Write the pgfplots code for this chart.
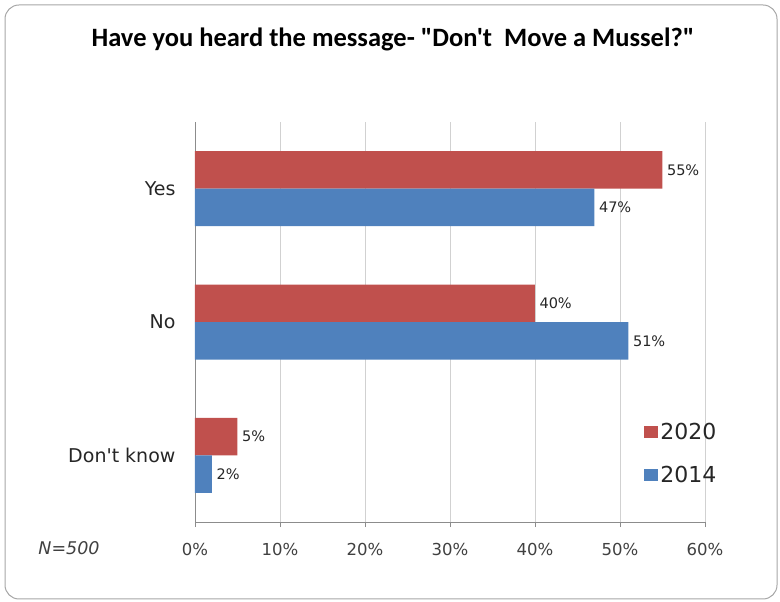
\documentclass[border=0pt]{standalone}
\usepackage{pgfplots}
\pgfplotsset{compat=1.18}
\usepackage{fontspec}
\setmainfont{DejaVu Sans}[Ligatures=TeXOff]
\newfontfamily\titlefont{Carlito}[Ligatures=TeXOff]
\definecolor{cred}{HTML}{C0504D}
\definecolor{cblue}{HTML}{4F81BD}
\begin{document}
\begin{tikzpicture}[x=1pt,y=1pt]
\useasboundingbox (0,0) rectangle (780,602);
\draw[black!35, rounded corners=14pt, line width=1pt] (5,3) rectangle (777,597);
\node[font=\titlefont\bfseries\fontsize{26.5}{30}\selectfont] at (393,563) {Have you heard the message- "Don't\ \ Move a Mussel?"};
\node[font=\itshape\fontsize{17.5}{20}\selectfont, text=black!75] at (69,54) {N=500};
\begin{axis}[
  at={(195pt,80pt)}, anchor=south west,
  scale only axis, width=510pt, height=400pt,
  xbar, bar width=37.5pt,
  xmin=0, xmax=60,
  ymin=-0.5, ymax=2.5, y dir=reverse,
  xtick={0,10,...,60},
  xticklabel={\pgfmathprintnumber{\tick}\%},
  /pgf/number format/assume math mode=true,
  ytick={0,1,2},
  yticklabels={Yes,No,Don't know},
  minor ytick={-0.5,0.5,1.5,2.5},
  ytick style={draw=none},
  minor tick length=5pt,
  minor y tick style={black!45},
  xtick style={black!45},
  xmajorgrids, grid style={black!18, line width=0.8pt},
  axis x line*=bottom, axis y line*=left,
  axis line style={black!45, line width=0.8pt},
  tick align=outside, major tick length=5pt,
  x tick label style={font=\fontsize{16.5}{19}\selectfont, text=black!75, yshift=-13pt},
  y tick label style={font=\fontsize{19}{22}\selectfont, text=black!85, xshift=-11pt},
  nodes near coords={\pgfmathprintnumber{\pgfplotspointmeta}\%},
  nodes near coords style={font=\fontsize{14.5}{17}\selectfont, text=black!85, anchor=west, xshift=1pt},
  point meta=explicit symbolic,
  legend style={draw=none, fill=none, at={(0.875,0.2575)}, anchor=north west,
    font=\fontsize{22}{25}\selectfont, text=black!85, row sep=21pt},
  legend cell align=left,
  legend image code/.code={\fill[#1] (0pt,-6pt) rectangle (14pt,6pt);},
  clip=false,
]
\addplot[fill=cred, draw=none, bar shift=18.75pt] coordinates {(55,0) [55] (40,1) [40] (5,2) [5]};
\addplot[fill=cblue, draw=none, bar shift=-18.75pt] coordinates {(47,0) [47] (51,1) [51] (2,2) [2]};
\legend{2020,2014}
\end{axis}
\end{tikzpicture}
\end{document}
